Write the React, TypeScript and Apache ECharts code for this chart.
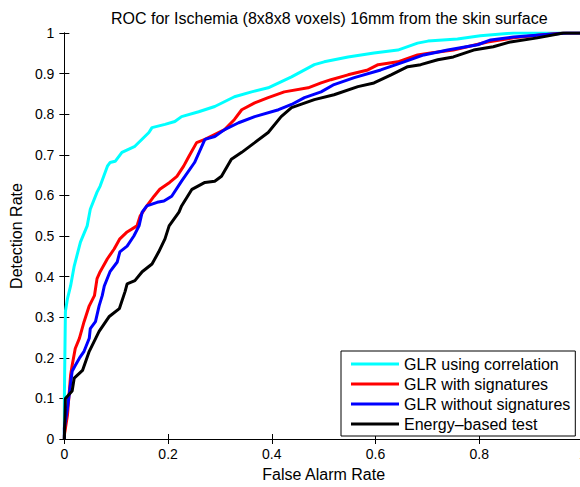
import React, { useEffect, useRef } from "react";
import * as echarts from "echarts";

const FONT = "'Liberation Sans', Arial, Helvetica, sans-serif";

const titleText = "ROC for Ischemia (8x8x8 voxels) 16mm from the skin surface";
const xAxisName = "False Alarm Rate";
const yAxisName = "Detection Rate";
const seriesNames = [
  "GLR using correlation",
  "GLR with signatures",
  "GLR without signatures",
  "Energy\u2013based test",
];
const seriesColors = ["#00ffff", "#ff0000", "#0000ff", "#000000"];

// GLR using correlation
const corrFar = [0, 0, 0.002, 0.006, 0.012, 0.019, 0.031, 0.044, 0.05, 0.063, 0.069, 0.083, 0.088, 0.098, 0.111, 0.136, 0.163, 0.169, 0.194, 0.213, 0.226, 0.259, 0.29, 0.328, 0.361, 0.393, 0.438, 0.482, 0.501, 0.547, 0.597, 0.643, 0.681, 0.701, 0.758, 0.802, 0.866, 1];
const corrPd = [0, 0.1, 0.314, 0.346, 0.377, 0.426, 0.485, 0.525, 0.566, 0.608, 0.623, 0.672, 0.681, 0.684, 0.706, 0.721, 0.755, 0.767, 0.775, 0.782, 0.794, 0.806, 0.819, 0.843, 0.855, 0.865, 0.892, 0.922, 0.929, 0.941, 0.951, 0.958, 0.975, 0.98, 0.985, 0.993, 1, 1];

// GLR with signatures
const withFar = [0, 0, 0.006, 0.012, 0.015, 0.021, 0.029, 0.038, 0.048, 0.058, 0.063, 0.069, 0.083, 0.096, 0.107, 0.121, 0.14, 0.146, 0.159, 0.173, 0.184, 0.203, 0.217, 0.23, 0.24, 0.255, 0.271, 0.309, 0.328, 0.342, 0.367, 0.393, 0.424, 0.47, 0.495, 0.514, 0.547, 0.585, 0.605, 0.643, 0.681, 0.706, 0.75, 0.777, 0.816, 0.866, 0.917, 0.962, 1];
const withPd = [0, 0.01, 0.059, 0.157, 0.181, 0.223, 0.248, 0.289, 0.328, 0.353, 0.395, 0.412, 0.444, 0.468, 0.493, 0.51, 0.525, 0.549, 0.574, 0.598, 0.615, 0.632, 0.647, 0.672, 0.696, 0.73, 0.738, 0.762, 0.787, 0.811, 0.828, 0.841, 0.855, 0.865, 0.877, 0.885, 0.897, 0.909, 0.922, 0.929, 0.946, 0.951, 0.958, 0.966, 0.978, 0.988, 0.995, 1, 1];

// GLR without signatures
const withoutFar = [0, 0, 0.006, 0.015, 0.021, 0.029, 0.038, 0.048, 0.05, 0.06, 0.067, 0.073, 0.077, 0.088, 0.102, 0.107, 0.121, 0.134, 0.144, 0.15, 0.159, 0.179, 0.192, 0.207, 0.226, 0.251, 0.271, 0.29, 0.309, 0.336, 0.367, 0.413, 0.438, 0.463, 0.495, 0.52, 0.559, 0.61, 0.655, 0.693, 0.739, 0.797, 0.822, 0.866, 0.917, 0.969, 1];
const withoutPd = [0, 0.027, 0.076, 0.167, 0.181, 0.199, 0.216, 0.248, 0.272, 0.289, 0.328, 0.353, 0.377, 0.412, 0.436, 0.461, 0.475, 0.5, 0.525, 0.559, 0.574, 0.583, 0.586, 0.598, 0.635, 0.681, 0.738, 0.745, 0.762, 0.779, 0.794, 0.811, 0.824, 0.841, 0.855, 0.873, 0.89, 0.909, 0.929, 0.946, 0.958, 0.971, 0.983, 0.99, 0.995, 1, 1];

// Energy-based test
const energyFar = [0, 0.002, 0.015, 0.019, 0.035, 0.048, 0.067, 0.086, 0.106, 0.117, 0.121, 0.136, 0.15, 0.169, 0.182, 0.194, 0.202, 0.221, 0.226, 0.246, 0.271, 0.29, 0.303, 0.322, 0.342, 0.367, 0.393, 0.418, 0.438, 0.482, 0.52, 0.566, 0.597, 0.63, 0.662, 0.687, 0.72, 0.75, 0.789, 0.827, 0.86, 0.912, 0.962, 1];
const energyPd = [0, 0.1, 0.118, 0.15, 0.169, 0.216, 0.265, 0.301, 0.321, 0.363, 0.382, 0.39, 0.412, 0.431, 0.461, 0.493, 0.525, 0.559, 0.574, 0.615, 0.632, 0.635, 0.647, 0.689, 0.706, 0.73, 0.755, 0.794, 0.816, 0.836, 0.848, 0.868, 0.877, 0.897, 0.917, 0.922, 0.934, 0.941, 0.958, 0.966, 0.978, 0.988, 1, 1];

const xTicks = [0, 0.2, 0.4, 0.6, 0.8, 1];
const yTicks = [0, 0.1, 0.2, 0.3, 0.4, 0.5, 0.6, 0.7, 0.8, 0.9, 1];

const zip = (xs: number[], ys: number[]) => xs.map((x, i) => [x, ys[i]]);

export default function App() {
  const ref = useRef<HTMLDivElement>(null);
  useEffect(() => {
    if (!ref.current) return;
    const chart = echarts.init(ref.current, undefined, { renderer: "svg" });
    const allData = [
      zip(corrFar, corrPd),
      zip(withFar, withPd),
      zip(withoutFar, withoutPd),
      zip(energyFar, energyPd),
    ];
    const axisCommon = {
      min: 0,
      max: 1,
      axisLine: { show: true, lineStyle: { color: "#000", width: 1 } },
      axisTick: { show: true, inside: true, length: 5, lineStyle: { color: "#000" } },
      splitLine: { show: false },
    };
    chart.setOption({
      animation: false,
      backgroundColor: "#fff",
      textStyle: { fontFamily: FONT },
      title: {
        text: titleText,
        left: 106,
        top: 5,
        textStyle: { fontSize: 16, fontWeight: "normal", color: "#000", fontFamily: FONT },
      },
      grid: { left: 62, top: 33, width: 521, height: 408 },
      legend: {
        orient: "vertical",
        left: 341,
        top: 351,
        data: seriesNames,
        icon: "rect",
        itemWidth: 48,
        itemHeight: 3,
        itemGap: 4,
        padding: [5, 5, 4, 10],
        borderColor: "#000",
        borderWidth: 1,
        backgroundColor: "#fff",
        textStyle: { fontSize: 16, lineHeight: 16, color: "#000", fontFamily: FONT },
      },
      xAxis: [
        {
          ...axisCommon,
          type: "value",
          interval: 0.2,
          position: "bottom",
          name: xAxisName,
          nameLocation: "middle",
          nameGap: 27,
          nameTextStyle: { fontSize: 16, color: "#000", fontFamily: FONT },
          axisLabel: {
            fontSize: 14,
            color: "#000",
            margin: 8,
            fontFamily: FONT,
            customValues: xTicks,
          },
          axisTick: { ...axisCommon.axisTick, customValues: xTicks },
        },
        {
          ...axisCommon,
          type: "value",
          interval: 0.2,
          position: "top",
          axisLabel: { show: false },
        },
      ],
      yAxis: [
        {
          ...axisCommon,
          type: "value",
          interval: 0.1,
          position: "left",
          name: yAxisName,
          nameLocation: "middle",
          nameGap: 32,
          nameTextStyle: { fontSize: 16, color: "#000", fontFamily: FONT },
          axisLabel: {
            fontSize: 14,
            color: "#000",
            margin: 10,
            fontFamily: FONT,
            customValues: yTicks,
          },
          axisTick: { ...axisCommon.axisTick, customValues: yTicks },
        },
        {
          ...axisCommon,
          type: "value",
          interval: 0.1,
          position: "right",
          axisLabel: { show: false },
        },
      ],
      series: allData.map((d, i) => ({
        name: seriesNames[i],
        type: "line",
        data: d,
        xAxisIndex: 0,
        yAxisIndex: 0,
        showSymbol: false,
        symbol: "none",
        color: seriesColors[i],
        lineStyle: { width: 3, color: seriesColors[i] },
        z: 2 + i,
      })),
    });
    return () => chart.dispose();
  }, []);
  return (
    <div style={{ position: "fixed", left: 0, top: 0, width: 580, height: 487, overflow: "hidden", background: "#fff" }}>
      <div ref={ref} style={{ width: 600, height: 487 }} />
    </div>
  );
}
